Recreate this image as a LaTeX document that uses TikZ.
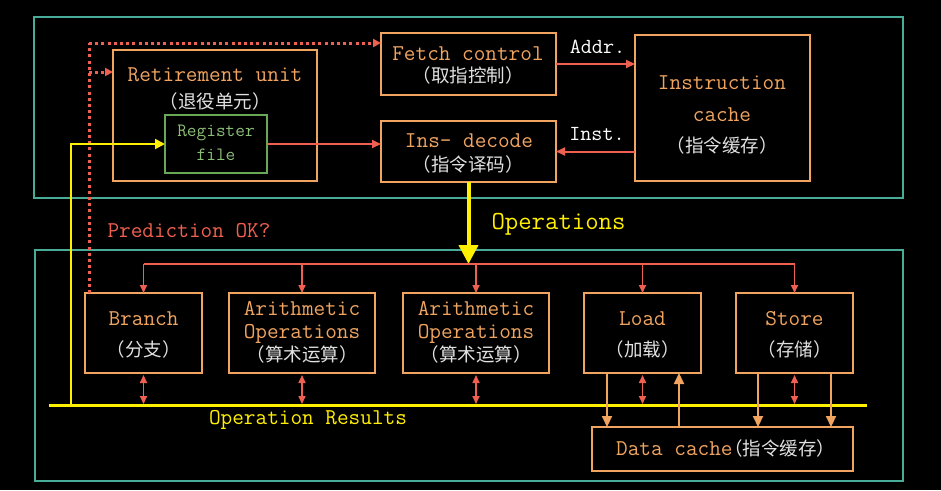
\documentclass[tikz,border=0pt]{standalone}
\usepackage{fontspec}
\newfontfamily\cjk{Noto Sans CJK SC}
\usetikzlibrary{arrows.meta}
\definecolor{tealc}{RGB}{72,172,152}
\definecolor{orc}{RGB}{240,164,96}
\definecolor{redc}{RGB}{240,96,80}
\definecolor{yelc}{RGB}{255,240,0}
\definecolor{grnc}{RGB}{104,168,84}
\definecolor{grnt}{RGB}{140,190,120}
\definecolor{cjkc}{RGB}{225,225,225}
\newcommand{\zhfont}{\cjk\fontsize{18.5}{20}\selectfont}
\begin{document}
\begin{tikzpicture}[x=1pt,y=-1pt,
  frame/.style={draw=tealc,line width=2pt},
  obox/.style={draw=orc,line width=2pt,rectangle,inner sep=0pt,outer sep=0pt,anchor=north west},
  gbox/.style={draw=grnc,line width=2pt,rectangle,inner sep=0pt,outer sep=0pt,anchor=north west},
  en/.style={font=\ttfamily\fontsize{22.6}{24}\selectfont,text=orc,inner sep=0pt,text height=13.8pt,text depth=0pt},
  wt/.style={font=\ttfamily\fontsize{21.5}{24}\selectfont,text=white,inner sep=0pt,text height=13.1pt,text depth=0pt},
  gt/.style={font=\ttfamily\fontsize{18.8}{20}\selectfont,text=grnt,inner sep=0pt,text height=11.5pt,text depth=0pt},
  yt/.style={font=\ttfamily\fontsize{22.6}{24}\selectfont,text=yelc,inner sep=0pt,text height=13.8pt,text depth=0pt},
  bigy/.style={font=\ttfamily\fontsize{26}{28}\selectfont,text=yelc,inner sep=0pt,text height=15.9pt,text depth=0pt},
  rt/.style={font=\ttfamily\fontsize{22.6}{24}\selectfont,text=redc,inner sep=0pt,text height=13.8pt,text depth=0pt},
  zh/.style={font=\zhfont,text=cjkc,inner sep=0pt,text height=14pt,text depth=0pt},
  rarr/.style={draw=redc,line width=2pt,-{Triangle[length=9pt,width=8pt]}},
  rsmall/.style={draw=redc,line width=1.6pt,-{Triangle[length=8pt,width=7pt]}},
  rdbl/.style={draw=redc,line width=1.6pt,{Triangle[length=8pt,width=7pt]}-{Triangle[length=8pt,width=7pt]}},
  rdot/.style={draw=redc,line width=3pt,dash pattern=on 3pt off 3.2pt},
  rdotarr/.style={rdot,-{Triangle[length=8pt,width=8pt]}},
  oarr/.style={draw=orc,line width=2pt,-{Triangle[length=11pt,width=10pt]}},
  yarr/.style={draw=yelc,line width=2pt,-{Triangle[length=10pt,width=10pt]}},
  ybig/.style={draw=yelc,line width=4pt,-{Triangle[length=19pt,width=19pt]}}
]
\fill[black] (0,0) rectangle (941,490);
\useasboundingbox (0,0) rectangle (941,490);

% frames
\draw[frame] (34,17) rectangle (903,198);
\draw[frame] (35,250) rectangle (903,481);

% top boxes
\node[obox,minimum width=204pt,minimum height=131pt] (ret) at (113,50) {};
\node[gbox,minimum width=102pt,minimum height=58pt] (reg) at (165,115) {};
\node[obox,minimum width=175pt,minimum height=62pt] (fetch) at (381,33) {};
\node[obox,minimum width=175pt,minimum height=61pt] (dec) at (381,121) {};
\node[obox,minimum width=175pt,minimum height=146pt] (icache) at (635,35) {};

% bottom boxes
\node[obox,minimum width=117pt,minimum height=80pt] (branch) at (85,293) {};
\node[obox,minimum width=146pt,minimum height=80pt] (ar1) at (229,293) {};
\node[obox,minimum width=146pt,minimum height=80pt] (ar2) at (403,293) {};
\node[obox,minimum width=117pt,minimum height=80pt] (load) at (584,293) {};
\node[obox,minimum width=117pt,minimum height=80pt] (store) at (736,293) {};
\node[obox,minimum width=261pt,minimum height=44pt] (dcache) at (592,427) {};

% texts
\node[en] (retT) at (215,75) {Retirement unit};
\node[zh] (retZ) at (215,101) {（退役单元）};
\node[gt] (regT1) at (216,131) {Register};
\node[gt] (regT2) at (216,155) {file};
\node[en] (fetchT) at (468,54) {Fetch control};
\node[zh] (fetchZ) at (468,75.5) {（取指控制）};
\node[en] (decT) at (469,141) {Ins- decode};
\node[zh] (decZ) at (468,164) {（指令译码）};
\node[en] (icT1) at (722,83) {Instruction};
\node[en] (icT2) at (722,115) {cache};
\node[zh] (icZ) at (722,145.5) {（指令缓存）};
\node[wt] (addrT) at (597.5,46.5) {Addr.};
\node[wt] (instT) at (597,133.5) {Inst.};
\node[bigy] (opsT) at (558.5,221.5) {Operations};
\node[rt] (predT) at (189,231) {Prediction OK?};
\node[en] (brT) at (143.5,318.5) {Branch};
\node[zh] (brZ) at (143.5,349.5) {（分支）};
\node[en] (a1T1) at (302,308.5) {Arithmetic};
\node[en] (a1T2) at (302,331.5) {Operations};
\node[zh] (a1Z) at (302,354.5) {（算术运算）};
\node[en] (a2T1) at (476,308.5) {Arithmetic};
\node[en] (a2T2) at (476,331.5) {Operations};
\node[zh] (a2Z) at (476,354.5) {（算术运算）};
\node[en] (ldT) at (642.5,318.5) {Load};
\node[zh] (ldZ) at (642.5,349) {（加载）};
\node[en] (stT) at (794.5,318.5) {Store};
\node[zh] (stZ) at (794.5,349) {（存储）};
\node[yt] (resT) at (308,417.5) {Operation Results};
\node[en,anchor=west] (dcT) at (616,449) {Data cache{\zhfont\color{cjkc}\kern-0.45em（指令缓存）}};

% coordinates
\coordinate (busL) at (49,405);
\coordinate (busR) at (867,405);
\coordinate (dotB) at (89,293);
\coordinate (dotT) at (89,43);
\coordinate (dotM) at (89,72);
\coordinate (yB) at (71,405);
\coordinate (yT) at (71,144);
\coordinate (distL) at (143.5,264);
\coordinate (distR) at (794.5,264);

% dotted prediction path
\draw[rdot] (dotB) -- (dotT);
\draw[rdotarr] (dotT) -- (dotT -| fetch.west);
\draw[rdotarr] (dotM) -- (dotM -| ret.west);

% yellow feedback
\draw[yarr] (yB) -- (yT) -- (yT -| reg.west);

% top connections
\draw[rarr] (reg.east) -- (reg.east -| dec.west);
\draw[rarr] (fetch.east) -- (fetch.east -| icache.west);
\draw[rarr] (dec.east -| icache.west) -- (dec.east);

% operations arrow
\draw[ybig] (dec.south) -- (dec.south |- distL);

% distribution
\draw[draw=redc,line width=1.6pt] (distL) -- (distR);
\foreach \b in {branch,ar1,ar2,load,store}{
  \draw[rsmall] (distL -| \b.north) -- (\b.north);
}

% bus
\draw[draw=yelc,line width=3pt] (busL) -- (busR);

% double arrows
\foreach \b in {branch,ar1,ar2,load,store}{
  \draw[rdbl] ([yshift=-2pt]\b.south) -- ([yshift=1pt]\b.south |- busL);
}

% load/store to data cache
\coordinate (l1) at (607,373);
\coordinate (l2) at (679,373);
\coordinate (s1) at (758,373);
\coordinate (s2) at (831,373);
\draw[oarr] (l1) -- (l1 |- dcache.north);
\draw[oarr] (l2 |- dcache.north) -- (l2);
\draw[oarr] (s1) -- (s1 |- dcache.north);
\draw[oarr] (s2) -- (s2 |- dcache.north);
\end{tikzpicture}
\end{document}
